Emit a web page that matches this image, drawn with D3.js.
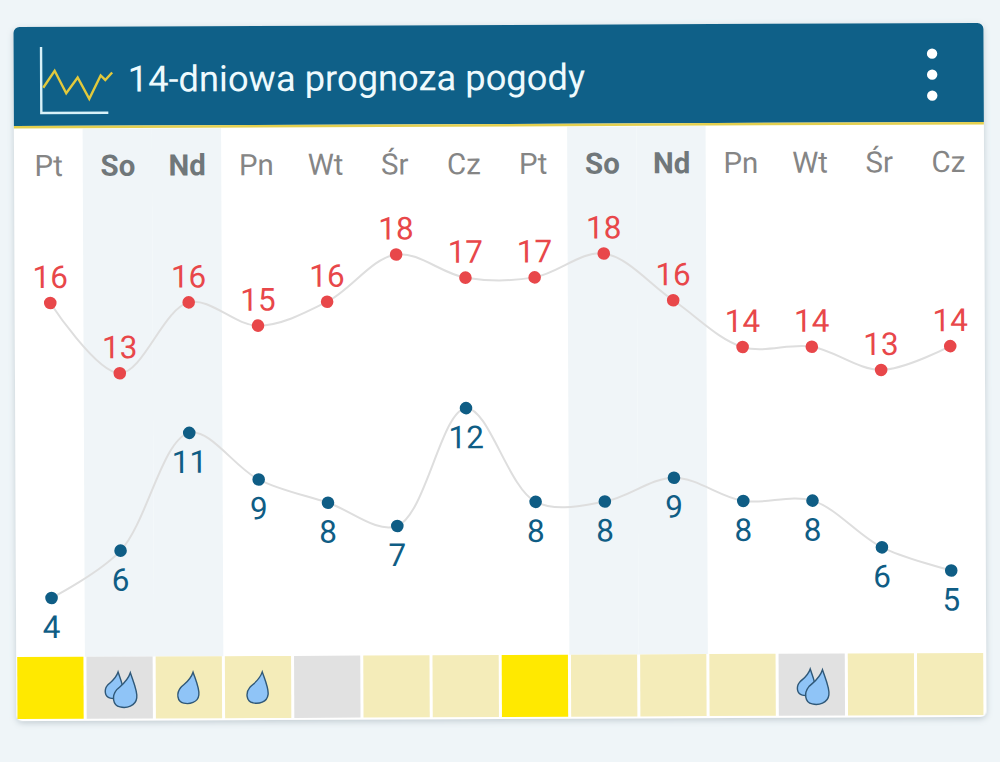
<!DOCTYPE html>
<html>
<head>
<meta charset="utf-8">
<script src="https://d3js.org/d3.v7.min.js"></script>
<style>
html, body { margin: 0; padding: 0; background: #eff5f8; }
svg { display: block; }
text { font-family: Roboto, sans-serif; }
</style>
</head>
<body>
<svg id="chart" width="1000" height="762"></svg>
<script>
// values
var days = ["Pt","So","Nd","Pn","Wt","Śr","Cz","Pt","So","Nd","Pn","Wt","Śr","Cz"];
var weekend = [0,1,1,0,0,0,0,0,1,1,0,0,0,0];
var highs = [16,13,16,15,16,18,17,17,18,16,14,14,13,14];
var lows = [4,6,11,9,8,7,12,8,8,9,8,8,6,5];
var sky = ["sun","cloud","part","part","cloud","part","part","sun","part","part","part","cloud","part","part"];
var drops = [0,2,1,1,0,0,0,0,0,0,0,2,0,0];
var iconSteps = [0,1,2,3,4,5,5.4,6];
var iconLine = [5,0.5,6.5,2.3,8,1.8,3,1];
var title = "14-dniowa prognoza pogody";

var skyColor = d3.scaleOrdinal()
	.domain(["sun","part","cloud"])
	.range(["#ffe900","#f4ecb9","#e1e1e1"]);

var svg = d3.select("#chart");
var defs = svg.append("defs");
var shadow = defs.append("filter").attr("id","cardShadow")
	.attr("x","-5%").attr("y","-5%").attr("width","110%").attr("height","110%");
shadow.append("feDropShadow")
	.attr("dx",0).attr("dy",2).attr("stdDeviation",3)
	.attr("flood-color","#8a9aa3").attr("flood-opacity",0.45);

// the photographed screen is very slightly tilted
var g = svg.append("g").attr("transform","rotate(-0.25 500 381)");

var idx = d3.range(days.length);
var x = d3.scaleBand().domain(idx).range([15,984]);
var cx = function(i) { return x(i) + x.bandwidth() / 2 + 1; };
var yHigh = d3.scaleLinear().domain([13,18]).range([371.6,254]);
var yLow = d3.scaleLinear().domain([4,12]).range([596,408]);

// card
g.append("rect").attr("x",15).attr("y",25).attr("width",970).attr("height",694)
	.attr("rx",6).attr("fill","#fff").attr("filter","url(#cardShadow)");

// weekend bands
g.selectAll(".band").data(idx.filter(function(i) { return weekend[i]; })).enter().append("rect")
	.attr("class","band")
	.attr("x",function(i) { return x(i) - 0.5; })
	.attr("y",127)
	.attr("width",x.bandwidth())
	.attr("height",528)
	.attr("fill","#f0f5f8");

// header
g.append("path")
	.attr("d","M15,124V31a6,6 0 0 1 6,-6H979a6,6 0 0 1 6,6V124Z")
	.attr("fill","#0f6088");
g.append("rect").attr("x",15).attr("y",124).attr("width",970).attr("height",2.5).attr("fill","#e3cf4e");

// header icon
var iconX = d3.scaleLinear().domain([0,6]).range([44.5,113.5]);
var iconY = d3.scaleLinear().domain([0,8]).range([67,97]);
g.append("path")
	.attr("d","M42.5,45V111H109.5")
	.attr("fill","none").attr("stroke","#d8f1f8").attr("stroke-width",2.4);
g.append("path")
	.attr("d",d3.line().x(function(d,i) { return iconX(iconSteps[i]); }).y(function(d) { return iconY(d); })(iconLine))
	.attr("fill","none").attr("stroke","#e2c93c").attr("stroke-width",2.4);

g.append("text").attr("x",129).attr("y",90)
	.attr("font-size",36.3).attr("fill","#eefafd")
	.text(title);

// menu dots
g.selectAll(".menu").data([0,1,2]).enter().append("circle")
	.attr("class","menu")
	.attr("cx",933.5)
	.attr("cy",function(d) { return 55.5 + d * 21; })
	.attr("r",5.2)
	.attr("fill","#fff");

// day names
g.selectAll(".day").data(idx).enter().append("text")
	.attr("class","day")
	.attr("x",function(i) { return cx(i) - 1; })
	.attr("y",174)
	.attr("text-anchor","middle")
	.attr("font-size",29.5)
	.attr("font-weight",function(i) { return weekend[i] ? 700 : 400; })
	.attr("fill",function(i) { return weekend[i] ? "#70777a" : "#858585"; })
	.text(function(i) { return days[i]; });

// lines, dots and labels for both series
function drawSeries(values, y, color, labelDy) {
	var line = d3.line()
		.x(function(d,i) { return cx(i); })
		.y(function(d) { return y(d); })
		.curve(d3.curveCatmullRom.alpha(0.5));
	g.append("path").attr("d",line(values))
		.attr("fill","none").attr("stroke","#dedede").attr("stroke-width",2);
	g.selectAll(null).data(values).enter().append("circle")
		.attr("cx",function(d,i) { return cx(i); })
		.attr("cy",function(d) { return y(d); })
		.attr("r",6.3)
		.attr("fill",color);
	g.selectAll(null).data(values).enter().append("text")
		.attr("x",function(d,i) { return cx(i); })
		.attr("y",function(d) { return y(d) + labelDy; })
		.attr("text-anchor","middle")
		.attr("font-size",31.5)
		.attr("fill",color)
		.text(function(d) { return d; });
}
drawSeries(highs, yHigh, "#e8474a", -15);
drawSeries(lows, yLow, "#0f5d85", 40);

// weather cells along the bottom
g.selectAll(".cell").data(idx).enter().append("rect")
	.attr("class","cell")
	.attr("x",function(i) { return x(i) + 1; })
	.attr("y",655)
	.attr("width",x.bandwidth() - 3)
	.attr("height",62)
	.attr("fill",function(i) { return skyColor(sky[i]); });

// rain drop, drawn around its own centre
function drop(c, cy, s) {
	var p = d3.path();
	p.moveTo(c + 5 * s, cy - 17 * s);
	p.bezierCurveTo(c + 8 * s, cy - 8 * s, c + 12 * s, cy + 1 * s, c + 11 * s, cy + 7 * s);
	p.bezierCurveTo(c + 10 * s, cy + 15 * s, c + 1 * s, cy + 17 * s, c - 5 * s, cy + 15.5 * s);
	p.bezierCurveTo(c - 12 * s, cy + 14 * s, c - 13 * s, cy + 5 * s, c - 8 * s, cy - 1 * s);
	p.bezierCurveTo(c - 4 * s, cy - 5 * s, c + 2 * s, cy - 8 * s, c + 5 * s, cy - 17 * s);
	p.closePath();
	return p.toString();
}
idx.forEach(function(i) {
	var c = cx(i) - 1;
	var list = drops[i] == 2 ? [[c - 6, 684, 0.8],[c + 5, 689, 1.05]] : drops[i] == 1 ? [[c - 1, 687, 0.95]] : [];
	list.forEach(function(d) {
		g.append("path").attr("d",drop(d[0],d[1],d[2]))
			.attr("fill","#8fc4f7").attr("stroke","#2f5878").attr("stroke-width",1.4);
	});
});
</script>
</body>
</html>
